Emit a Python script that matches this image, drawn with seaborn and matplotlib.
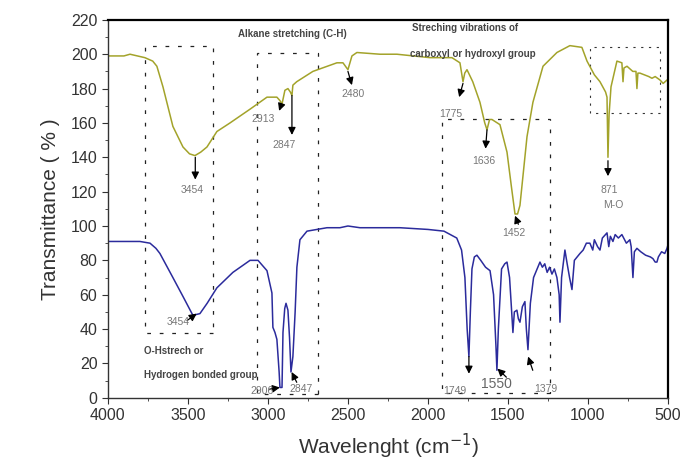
import pandas as pd
import matplotlib.pyplot as plt
import seaborn as sns
from matplotlib.patches import Rectangle
from matplotlib.ticker import MultipleLocator

# FTIR spectra (wavenumber, transmittance %)
top_wn = [4000, 3900, 3862, 3769, 3720, 3694, 3656, 3594, 3531, 3490, 3456, 3420, 3381, 3319,
          3237, 3112, 3006, 2944, 2925, 2912, 2894, 2875, 2860, 2850, 2844, 2820, 2719, 2569,
          2531, 2500, 2475, 2444, 2300, 2194, 1987, 1850, 1800, 1781, 1770, 1756, 1720, 1675,
          1645, 1631, 1615, 1600, 1550, 1506, 1480, 1456, 1440, 1425, 1381, 1344, 1281, 1194,
          1113, 1038, 1006, 960, 925, 890, 881, 875, 868, 856, 819, 788, 781, 775, 756, 720,
          700, 694, 688, 675, 620, 600, 580, 550, 530, 506, 500]
top_t = [199, 199, 200, 198, 196, 193, 181, 158, 146, 142, 141, 143, 146, 155,
         160, 168, 175, 175, 173, 171, 179, 180, 178, 176, 182, 184, 190, 195,
         195, 191, 199, 201, 200, 200, 198, 198, 195, 184, 189, 191, 184, 172,
         160, 156, 162, 162, 159, 143, 124, 107, 107, 112, 152, 172, 193, 201,
         205, 204, 196, 188, 184, 178, 175, 140, 165, 181, 196, 195, 184, 192, 193, 190,
         190, 180, 189, 189, 187, 186, 187, 185, 183, 185, 185]

bot_wn = [4000, 3900, 3800, 3737, 3700, 3675, 3594, 3531, 3469, 3425, 3380, 3319, 3219, 3112,
          3062, 3006, 2975, 2969, 2956, 2944, 2930, 2925, 2912, 2906, 2895, 2887, 2875, 2865,
          2856, 2844, 2830, 2819, 2800, 2756, 2631, 2550, 2500, 2425, 2300, 2175, 2000, 1900,
          1820, 1790, 1769, 1755, 1744, 1735, 1725, 1710, 1694, 1670, 1640, 1612, 1590, 1575,
          1569, 1560, 1540, 1520, 1506, 1490, 1480, 1469, 1460, 1444, 1435, 1425, 1410, 1394,
          1385, 1375, 1360, 1340, 1300, 1285, 1270, 1255, 1240, 1225, 1210, 1194, 1180, 1175,
          1165, 1144, 1130, 1115, 1100, 1085, 1050, 1030, 1010, 988, 970, 960, 940, 925, 910,
          881, 870, 860, 844, 830, 810, 788, 760, 738, 730, 719, 710, 694, 670, 640, 610, 594,
          580, 569, 560, 540, 520, 506, 500]
bot_t = [91, 91, 91, 90, 87, 84, 70, 59, 48, 49, 55, 64, 73, 80,
         80, 74, 61, 41, 38, 34, 15, 6, 6, 38, 52, 55, 51, 35,
         15, 24, 50, 76, 92, 97, 99, 99, 100, 99, 99, 99, 98, 97,
         93, 86, 70, 40, 24, 50, 75, 82, 83, 80, 76, 74, 60, 30,
         16, 40, 75, 78, 79, 70, 55, 38, 50, 51, 46, 44, 53, 56,
         40, 28, 55, 70, 79, 76, 78, 73, 76, 72, 75, 70, 60, 44,
         70, 86, 78, 70, 63, 80, 84, 86, 90, 90, 86, 92, 88, 86, 93,
         96, 88, 94, 91, 95, 93, 95, 90, 92, 88, 70, 85, 87, 85, 83, 82, 81,
         79, 79, 82, 85, 84, 87, 89]

# peak labels: (text, label x, label y, arrow tail, arrow head)
top_peaks = [
    ("3454", 3475, 121, (3454, 140), (3454, 127)),
    ("2913", 3030, 162, (2915, 171), (2930, 167)),
    ("2847", 2900, 147, (2850, 176), (2850, 153)),
    ("2480", 2470, 177, (2500, 190), (2475, 182)),
    ("1775", 1860, 165, (1781, 183), (1805, 175)),
    ("1636", 1650, 138, (1631, 156), (1640, 145)),
    ("1452", 1462, 96, (1435, 101), (1456, 106)),
    ("871", 865, 121, (875, 138), (875, 129)),
]
bot_peaks = [
    ("3454", 3560, 44, (3505, 45), (3445, 49)),
    ("2906", 3035, 4, (2990, 5), (2925, 6)),
    ("2847", 2790, 5, (2820, 9), (2852, 15)),
    ("1749", 1835, 4, (1744, 24), (1744, 14)),
    ("1379", 1265, 5, (1345, 16), (1374, 24)),
]

# dashed group boxes: (x0, x1, y0, y1)
boxes = [(3345, 3770, 38, 205), (2690, 3070, 2, 201), (1240, 1910, 3, 162)]
mo_box = (550, 990, 166, 204)

spec = pd.concat([
    pd.DataFrame({"wn": top_wn, "T": top_t, "sample": "top"}),
    pd.DataFrame({"wn": bot_wn, "T": bot_t, "sample": "bottom"}),
])

sns.set_style("ticks")
plt.rcParams["font.family"] = ["Liberation Sans", "DejaVu Sans"]

fig, ax = plt.subplots(figsize=(6.83, 4.62), dpi=100)
fig.subplots_adjust(left=0.158, right=0.978, top=0.957, bottom=0.139)

sns.lineplot(data=spec, x="wn", y="T", hue="sample", units="sample", estimator=None,
             sort=False, palette={"top": "#a3a32a", "bottom": "#2b2b9c"},
             linewidth=1.1, legend=False, ax=ax)

for x0, x1, y0, y1 in boxes:
    ax.add_patch(Rectangle((x0, y0), x1 - x0, y1 - y0, fill=False, ec="#222",
                           lw=0.9, ls=(0, (3, 7))))
ax.add_patch(Rectangle((mo_box[0], mo_box[2]), mo_box[1] - mo_box[0], mo_box[3] - mo_box[2],
                       fill=False, ec="#333", lw=0.8, ls=(0, (2, 5))))

arrow = dict(arrowstyle="-|>", color="black", lw=0.9, mutation_scale=11, shrinkA=0, shrinkB=0)
for txt, tx, ty, tail, head in top_peaks + bot_peaks:
    ax.annotate("", xy=head, xytext=tail, arrowprops=arrow)
    ax.text(tx, ty, txt, fontsize=7.5, color="#777", ha="center", va="center")
ax.annotate("", xy=(1566, 17), xytext=(1510, 12), arrowprops=arrow)
ax.text(1575, 8, "1550", fontsize=10, color="#666", ha="center", va="center")
ax.text(840, 112, "M-O", fontsize=7.5, color="#777", ha="center", va="center")

group_style = dict(fontsize=7, color="#444", fontweight="bold", ha="left", va="center")
ax.text(3190, 212, "Alkane stretching (C-H)", **group_style)
ax.text(2100, 215, "Streching vibrations of", **group_style)
ax.text(2110, 200, "carboxyl or hydroxyl group", **group_style)
ax.text(3775, 27, "O-Hstrech or", **group_style)
ax.text(3775, 13, "Hydrogen bonded group", **group_style)

ax.set_xlim(4000, 500)
ax.set_ylim(0, 220)
ax.xaxis.set_major_locator(MultipleLocator(500))
ax.xaxis.set_minor_locator(MultipleLocator(250))
ax.yaxis.set_major_locator(MultipleLocator(20))
ax.yaxis.set_minor_locator(MultipleLocator(10))
ax.tick_params(which="both", direction="out", color="#333", labelsize=11.5, labelcolor="#333")
ax.tick_params(which="major", length=4)
ax.tick_params(which="minor", length=2.5)

for side in ["left", "bottom"]:
    ax.spines[side].set_color("#333")
    ax.spines[side].set_linewidth(1.0)
for side in ["top", "right"]:
    ax.spines[side].set_color("black")
    ax.spines[side].set_linewidth(1.6)

ax.set_xlabel("Wavelenght (cm$^{-1}$)", fontsize=15, color="#333", labelpad=6)
ax.set_ylabel("Transmittance ( % )", fontsize=15, color="#333", labelpad=8)

plt.savefig("out.png", dpi=100)
plt.close()
